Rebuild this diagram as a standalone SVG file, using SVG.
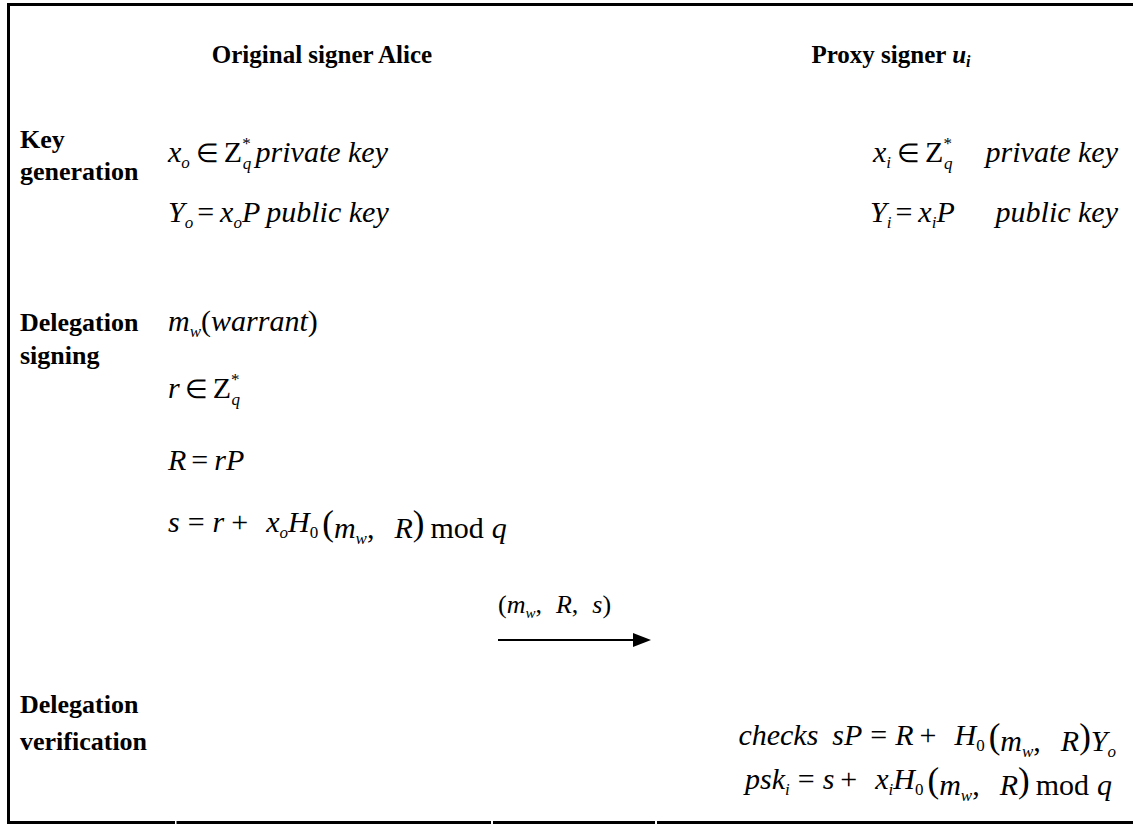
<svg xmlns="http://www.w3.org/2000/svg" width="1133" height="824" viewBox="0 0 1133 824">
<rect width="1133" height="824" fill="#fff"/>
<g id="frame" stroke="#000" stroke-width="3" fill="none">
<line x1="7" y1="4.5" x2="1133" y2="4.5"/>
<line x1="8.5" y1="3" x2="8.5" y2="824"/>
<line x1="7" y1="822.5" x2="175" y2="822.5"/>
<line x1="176.5" y1="822.5" x2="491" y2="822.5"/>
<line x1="493" y1="822.5" x2="655" y2="822.5"/>
<line x1="657" y1="822.5" x2="1133" y2="822.5"/>
</g>
<text id="header-alice" x="322" y="63" text-anchor="middle" font-family="Liberation Serif" font-weight="bold" font-size="25">Original signer Alice</text>
<text id="header-proxy" x="891" y="63" text-anchor="middle" font-family="Liberation Serif" font-weight="bold" font-size="25">Proxy signer <tspan font-style="italic">u</tspan><tspan dy="4" font-style="italic" font-size="16">i</tspan></text>
<text id="label-key" x="20" y="148" font-family="Liberation Serif" font-weight="bold" font-size="26">Key</text>
<text id="label-generation" x="20" y="180" font-family="Liberation Serif" font-weight="bold" font-size="26">generation</text>
<text id="label-delegation1" x="20" y="331" font-family="Liberation Serif" font-weight="bold" font-size="26">Delegation</text>
<text id="label-signing" x="20" y="364" font-family="Liberation Serif" font-weight="bold" font-size="26">signing</text>
<text id="label-delegation2" x="20" y="713" font-family="Liberation Serif" font-weight="bold" font-size="26">Delegation</text>
<text id="label-verification" x="20" y="750" font-family="Liberation Serif" font-weight="bold" font-size="26">verification</text>
<text id="alice-private" x="168" y="162" font-family="Liberation Serif" font-size="30"><tspan font-style="italic">x</tspan><tspan dy="6" font-style="italic" font-size="17">o</tspan><tspan dy="-6" dx="6" font-size="26">∈</tspan><tspan dx="5">Z</tspan><tspan dy="-13" font-size="17">*</tspan><tspan dx="-8" dy="20" font-style="italic" font-size="17">q</tspan></text>
<text id="alice-private-label" x="388" y="162" text-anchor="end" font-family="Liberation Serif" font-size="30" font-style="italic">private key</text>
<text id="alice-public" x="168" y="222" font-family="Liberation Serif" font-size="30"><tspan font-style="italic">Y</tspan><tspan dy="6" font-style="italic" font-size="17">o</tspan><tspan dy="-6" dx="4">=</tspan><tspan dx="6" font-style="italic">x</tspan><tspan dy="6" font-style="italic" font-size="17">o</tspan><tspan dy="-6" font-style="italic">P</tspan><tspan dx="6" font-style="italic">public key</tspan></text>
<text id="proxy-private" x="873" y="162" font-family="Liberation Serif" font-size="30"><tspan font-style="italic">x</tspan><tspan dy="6" font-style="italic" font-size="17">i</tspan><tspan dy="-6" dx="6" font-size="26">∈</tspan><tspan dx="5">Z</tspan><tspan dy="-13" font-size="17">*</tspan><tspan dx="-8" dy="20" font-style="italic" font-size="17">q</tspan></text>
<text id="proxy-private-label" x="1118" y="162" text-anchor="end" font-family="Liberation Serif" font-size="30" font-style="italic">private key</text>
<text id="proxy-public" x="870" y="222" font-family="Liberation Serif" font-size="30"><tspan font-style="italic">Y</tspan><tspan dy="6" font-style="italic" font-size="17">i</tspan><tspan dy="-6" dx="4">=</tspan><tspan dx="6" font-style="italic">x</tspan><tspan dy="6" font-style="italic" font-size="17">i</tspan><tspan dy="-6" font-style="italic">P</tspan></text>
<text id="proxy-public-label" x="1118" y="222" text-anchor="end" font-family="Liberation Serif" font-size="30" font-style="italic">public key</text>
<text id="alice-warrant" x="168" y="331" font-family="Liberation Serif" font-size="30"><tspan font-style="italic">m</tspan><tspan dy="6" font-style="italic" font-size="17">w</tspan><tspan dy="-6">(</tspan><tspan font-style="italic">warrant</tspan><tspan>)</tspan></text>
<text id="alice-r" x="168" y="398" font-family="Liberation Serif" font-size="30"><tspan font-style="italic">r</tspan><tspan dx="5" font-size="26">∈</tspan><tspan dx="5">Z</tspan><tspan dy="-13" font-size="17">*</tspan><tspan dx="-8" dy="20" font-style="italic" font-size="17">q</tspan></text>
<text id="alice-R" x="168" y="470" font-family="Liberation Serif" font-size="30"><tspan font-style="italic">R</tspan><tspan dx="5">=</tspan><tspan dx="6" font-style="italic">rP</tspan></text>
<text id="alice-s" x="168" y="532" font-family="Liberation Serif" font-size="30"><tspan font-style="italic">s</tspan><tspan dx="8">=</tspan><tspan dx="8" font-style="italic">r</tspan><tspan dx="7">+</tspan><tspan dx="18" font-style="italic">x</tspan><tspan dy="6" font-style="italic" font-size="17">o</tspan><tspan dy="-6" font-style="italic">H</tspan><tspan dy="6" font-size="17">0</tspan><tspan dx="4" dy="-3" font-size="35">(</tspan><tspan dy="3" font-style="italic">m</tspan><tspan dy="6" font-style="italic" font-size="17">w</tspan><tspan dy="-6">,</tspan><tspan dx="20" font-style="italic">R</tspan><tspan dy="-3" font-size="35">)</tspan><tspan dx="6" dy="3">mod</tspan><tspan dx="8" font-style="italic">q</tspan></text>
<g id="connectors">
<line x1="498" y1="640" x2="636" y2="640" stroke="#000" stroke-width="2"/>
<polygon points="633,633 651,640 633,647" fill="#000"/>
</g>
<text id="message-label" x="498" y="613" font-family="Liberation Serif" font-size="26"><tspan>(</tspan><tspan font-style="italic">m</tspan><tspan dy="5" font-style="italic" font-size="15">w</tspan><tspan dy="-5">,</tspan><tspan dx="14" font-style="italic">R</tspan><tspan>,</tspan><tspan dx="14" font-style="italic">s</tspan><tspan>)</tspan></text>
<text id="proxy-checks" x="1116" y="745" text-anchor="end" font-family="Liberation Serif" font-size="30"><tspan font-style="italic">checks</tspan><tspan dx="14" font-style="italic">sP</tspan><tspan dx="8">=</tspan><tspan dx="8" font-style="italic">R</tspan><tspan dx="6">+</tspan><tspan dx="18" font-style="italic">H</tspan><tspan dy="6" font-size="17">0</tspan><tspan dx="4" dy="-3" font-size="35">(</tspan><tspan dy="3" font-style="italic">m</tspan><tspan dy="6" font-style="italic" font-size="17">w</tspan><tspan dy="-6">,</tspan><tspan dx="20" font-style="italic">R</tspan><tspan dy="-3" font-size="35">)</tspan><tspan dy="3" font-style="italic">Y</tspan><tspan dy="6" font-style="italic" font-size="17">o</tspan></text>
<text id="proxy-psk" x="1112" y="789" text-anchor="end" font-family="Liberation Serif" font-size="30"><tspan font-style="italic">psk</tspan><tspan dy="6" font-style="italic" font-size="17">i</tspan><tspan dx="8" dy="-6">=</tspan><tspan dx="8" font-style="italic">s</tspan><tspan dx="6">+</tspan><tspan dx="18" font-style="italic">x</tspan><tspan dy="6" font-style="italic" font-size="17">i</tspan><tspan dy="-6" font-style="italic">H</tspan><tspan dy="6" font-size="17">0</tspan><tspan dx="4" dy="-3" font-size="35">(</tspan><tspan dy="3" font-style="italic">m</tspan><tspan dy="6" font-style="italic" font-size="17">w</tspan><tspan dy="-6">,</tspan><tspan dx="20" font-style="italic">R</tspan><tspan dy="-3" font-size="35">)</tspan><tspan dx="6" dy="3">mod</tspan><tspan dx="8" font-style="italic">q</tspan></text>
</svg>
